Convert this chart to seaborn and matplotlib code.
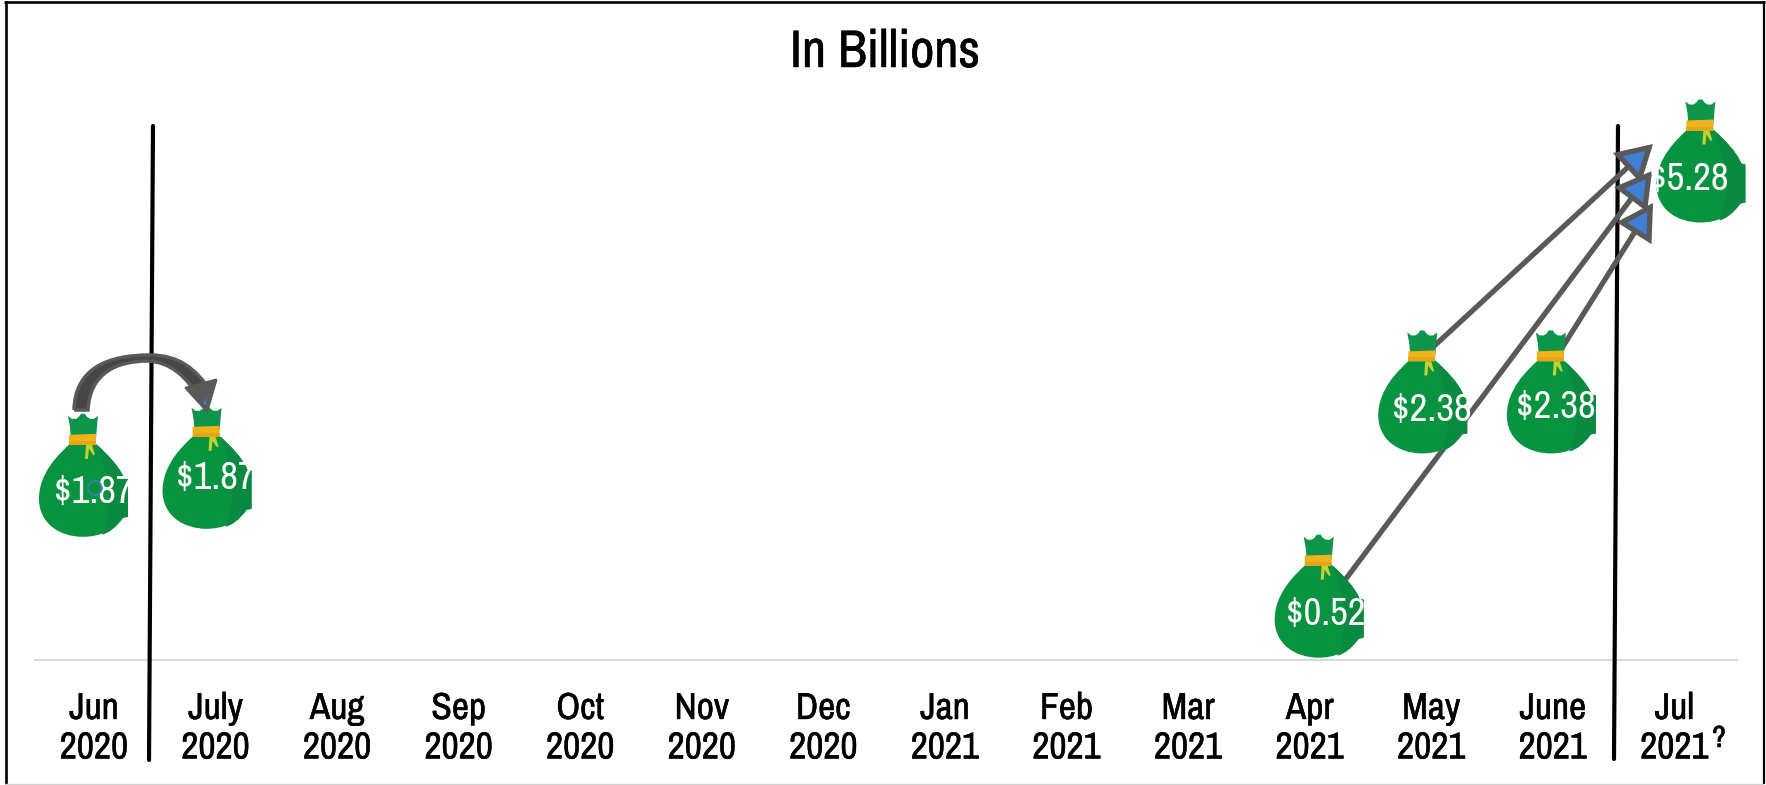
import matplotlib
matplotlib.use("Agg")
import matplotlib.patheffects as pe
import matplotlib.pyplot as plt
import numpy as np
import pandas as pd
import seaborn as sns
from matplotlib.lines import Line2D
from matplotlib.patches import Circle, FancyArrowPatch, PathPatch, Polygon
from matplotlib.path import Path
from matplotlib.transforms import Affine2D, ScaledTranslation

months = ["Jun\n2020", "July\n2020", "Aug\n2020", "Sep\n2020", "Oct\n2020", "Nov\n2020", "Dec\n2020",
          "Jan\n2021", "Feb\n2021", "Mar\n2021", "Apr\n2021", "May\n2021", "June\n2021", "Jul\n2021"]
bag_months = [0, 1, 10, 11, 12, 13]
bag_values = [1.87, 1.87, 0.52, 2.38, 2.38, 5.28]
value_labels = ["$1.87", "$1.87", "$0.52", "$2.38", "$2.38", "$5.28"]

# Hand placement of each bag and its label around its data point, in pixels (right, up)
bag_shift_x = [-11, -9, 9, -9, -2, 26]
bag_shift_y = [-1, 7, 1, 36, 36, 3]
label_shift_x = [0, 0, 16, 1, 3, 14]
label_shift_y = [-3, 11, -2, 33, 36, 0]

GREEN = "#07933f"
GREEN_DARK = "#0a8a41"
GOLD = "#f0b21b"
STRING = "#c3d233"
GREY = "#595959"
BLUE = "#3f7fd6"

W, H = 1766, 785
FONT = ["Archivo Narrow", "Roboto Condensed", "Liberation Sans", "DejaVu Sans"]

sns.set_theme(style="white")
plt.rcParams["font.family"] = FONT

fig = plt.figure(figsize=(W / 100, H / 100), dpi=100, facecolor="white")
ax = fig.add_axes([35 / W, (H - 660) / H, 1702 / W, 600 / H])
ax.patch.set_alpha(0)

# Top-left pixel coordinates for annotations laid over the plot
px = Affine2D().scale(1, -1).translate(0, H)
heavier = [pe.withStroke(linewidth=0.35, foreground="black")]


def closed(points):
    """Polygon path codes and vertices for a list of points."""
    verts = list(points) + [points[0]]
    codes = [Path.MOVETO] + [Path.LINETO] * (len(points) - 1) + [Path.CLOSEPOLY]
    return verts, codes


def bag_path(part):
    """Marker path; the stray move keeps every layer on one common scale."""
    verts, codes = part
    return Path(np.array([(90, 90)] + list(verts), float), [Path.MOVETO] + list(codes))


# Bag geometry: origin on the neck axis, bag spans 77 px above to 46 px below
M, L, C = Path.MOVETO, Path.LINETO, Path.CURVE4
body = ([(-13, 47),
         (-24, 37), (-44, 18), (-44, -8),
         (-44, -32), (-24, -46), (0, -46),
         (16, -46), (31, -40), (40, -27),
         (45, -26), (45, 12), (41, 13),
         (36, 25), (24, 37), (13, 47),
         (-13, 47)],
        [M, C, C, C, C, C, C, C, C, C, L, L, L, C, C, C, L])
shade = ([(14, 46), (24, 37), (36, 25), (41, 13), (45, 12), (45, -26), (40, -27),
          (33, -37), (26, -42), (19, -44),
          (27, -28), (31, 6), (14, 46)],
         [M, C, C, C, L, L, L, C, C, C, C, C, C])
neck = closed([(-15, 75), (-11, 72), (-7, 72), (-4, 74), (-2, 77), (2, 77), (4, 74), (7, 72),
               (11, 72), (15, 75), (14, 64), (13, 52), (-12, 52), (-13, 64)])
band = closed([(-14, 56), (13, 57), (13, 46), (-14, 46)])
band_low = closed([(-14, 50), (13, 50), (13, 46), (-14, 46)])
strings = closed([(3, 46), (2, 32), (5, 32), (6, 42), (10, 36), (12, 36), (9, 46)])

layers = [(body, GREEN), (shade, GREEN_DARK), (neck, "#0f9549"), (band, GOLD),
          (band_low, "#e5a51a"), (strings, STRING)]

# Marker paths are normalised to their largest coordinate, so this size maps one path unit to a pixel
SIZE = (2 * 90 * 72 / 100) ** 2

for z, (part, colour) in enumerate(layers):
    for month, value, dx, dy in zip(bag_months, bag_values, bag_shift_x, bag_shift_y):
        sns.scatterplot(
            data=pd.DataFrame({"month": [month], "billions": [value]}),
            x="month", y="billions", ax=ax, marker=bag_path(part), s=SIZE, color=colour,
            edgecolor="none", linewidth=0, clip_on=False, zorder=4 + z * 0.1,
            transform=ax.transData + ScaledTranslation(dx, dy, Affine2D()),
            legend=False,
        )

for month, value, text, dx, dy in zip(bag_months, bag_values, value_labels, label_shift_x, label_shift_y):
    ax.annotate(text, (month, value), xytext=(dx * 0.72, dy * 0.72), textcoords="offset points",
                ha="center", va="center", color="white", fontsize=28, zorder=5, annotation_clip=False)

ax.set_xlim(-0.485, 13.515)
ax.set_ylim(0, 600 / 91)
ax.set_xticks(range(len(months)), months)
ax.set_yticks([])
ax.set_xlabel("")
ax.set_ylabel("")
ax.tick_params(axis="x", length=0, pad=23, labelsize=27, colors="black")
for label in ax.get_xticklabels():
    label.set_linespacing(1.24)
    label.set_path_effects(heavier)
sns.despine(ax=ax, left=True, top=True, right=True)
ax.spines["bottom"].set_color("#d9d9d9")
ax.spines["bottom"].set_linewidth(1.5)

fig.text(885 / W, 1 - 52 / H, "In Billions", ha="center", va="center", fontsize=38,
         color="black", path_effects=heavier)
ax.text(1719, 738, "?", transform=px, ha="center", va="center", fontsize=22,
        fontweight="bold", color="black", clip_on=False, path_effects=heavier)

# The two period dividers
for xs, ys in [((153, 149), (126, 760)), ((1618, 1614), (126, 759))]:
    ax.add_line(Line2D(xs, ys, transform=px, color="black", lw=3, clip_on=False, zorder=3))

# Straight arrows converging on the last bag
for start, tip in [((1432, 348), (1653, 144)), ((1345, 580), (1652, 171)), ((1562, 348), (1653, 203))]:
    ax.add_patch(FancyArrowPatch(
        start, tip, transform=px, arrowstyle="-|>,head_length=0.95,head_width=0.55", mutation_scale=21,
        shrinkA=0, shrinkB=0, lw=3.8, edgecolor=GREY, facecolor=BLUE, clip_on=False, zorder=3.5,
        joinstyle="miter",
    ))

# Curved arrow between the first two bags
curve_v = [(74, 410), (75, 368), (108, 355), (150, 355), (178, 355), (196, 368), (211, 392),
           (199, 398), (186, 376), (170, 362), (148, 361), (118, 361), (90, 372), (88, 410), (74, 410)]
curve_c = [M] + [C] * 6 + [L] + [C] * 6 + [L]
ax.add_patch(PathPatch(Path(curve_v, curve_c), transform=px, facecolor="#464646", edgecolor=GREY,
                       lw=2.5, clip_on=False, zorder=6))
ax.add_patch(Polygon([(186, 388), (216, 380), (207, 411)], closed=True, transform=px, facecolor=GREY,
                     edgecolor=GREY, lw=2, joinstyle="round", clip_on=False, zorder=6.1))
ax.add_patch(Polygon([(207, 398), (206, 405), (203, 403)], closed=True, transform=px, facecolor=BLUE,
                     edgecolor="none", clip_on=False, zorder=6.2))
ax.add_patch(Circle((95, 488), 7, transform=px, facecolor="none", edgecolor="#4a78d0", lw=1,
                    clip_on=False, zorder=6))

# Outer frame: black on three sides, a faint rule along the bottom
frame = [((5.5, 5.5), (1, 784), "black", 1.9), ((4, 1765), (2, 2), "black", 1.9),
         ((1764, 1764), (1, 784), "black", 1.6), ((5, 1764), (784, 784), "#d0d0d0", 1.0)]
for xs, ys, colour, width in frame:
    ax.add_line(Line2D(xs, ys, transform=px, color=colour, lw=width, clip_on=False, zorder=2,
                       solid_capstyle="butt"))

fig.savefig("out.png", dpi=100, facecolor="white")
